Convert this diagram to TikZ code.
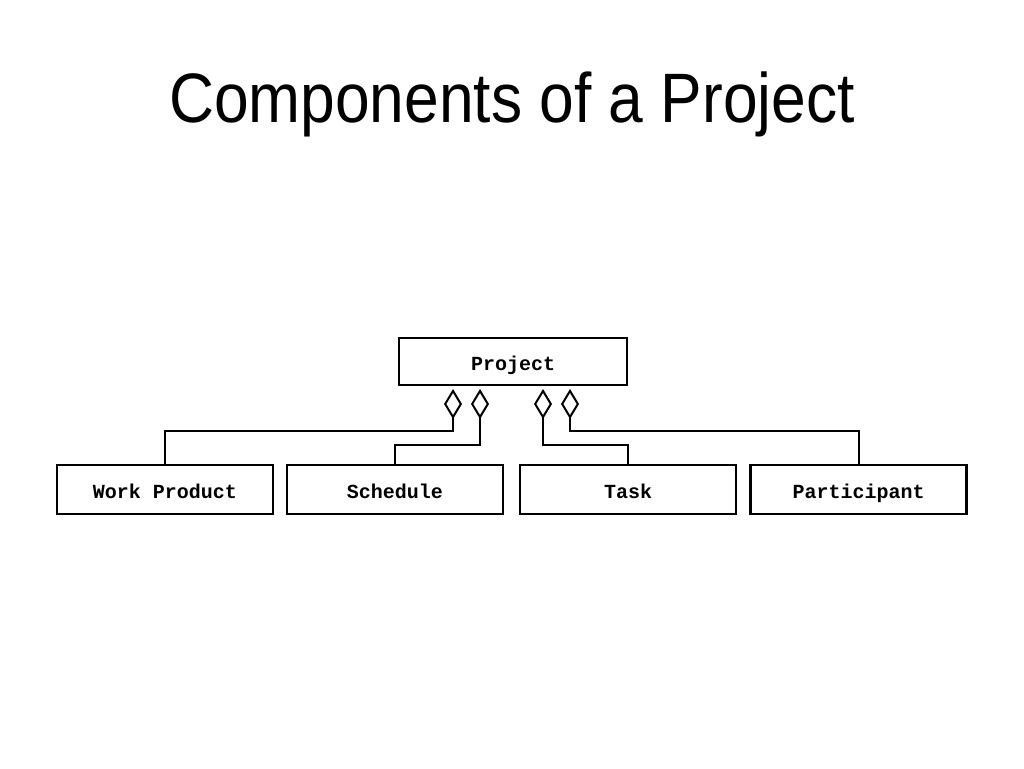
\documentclass[tikz,border=0pt]{standalone}
\usepackage{fontspec}
\setmainfont{Liberation Sans}
\newfontfamily\titlefont[FakeStretch=0.89]{Liberation Sans}
\newfontfamily\boxfont{Liberation Mono}
\usetikzlibrary{arrows.meta}
\begin{document}
\begin{tikzpicture}[x=1pt,y=-1pt,
  cls/.style={draw, line width=2.6pt, minimum width=216pt, minimum height=49pt, inner sep=0pt,
    text height=18pt, text depth=1pt,
    font=\boxfont\bfseries\fontsize{20}{24}\selectfont},
  agg/.style={line width=2pt, {Diamond[open, length=30pt 0 0, width=18pt 0 0, line width=2pt]}-},
]
\useasboundingbox (0,0) rectangle (1024,768);
\node[font=\titlefont\fontsize{70}{80}\selectfont, anchor=base] (title) at (512,122) {Components of a Project};
\node[cls, minimum width=228pt, minimum height=47pt] (proj) at (513,361.5) {Project};
\node[cls] (wp) at (165,489.5) {Work Product};
\node[cls] (sch) at (395,489.5) {Schedule};
\node[cls] (task) at (628,489.5) {Task};
\node[cls] (part) at (858.5,489.5) {Participant};
\coordinate (d1) at (453,389);
\coordinate (d2) at (480,389);
\coordinate (d3) at (543,389);
\coordinate (d4) at (570,389);
\draw[agg] (d1) -- ++(0,42) -| (wp.north);
\draw[agg] (d2) -- ++(0,56) -| (sch.north);
\draw[agg] (d3) -- ++(0,56) -| (task.north);
\draw[agg] (d4) -- ++(0,42) -| (part.north);
\end{tikzpicture}
\end{document}
